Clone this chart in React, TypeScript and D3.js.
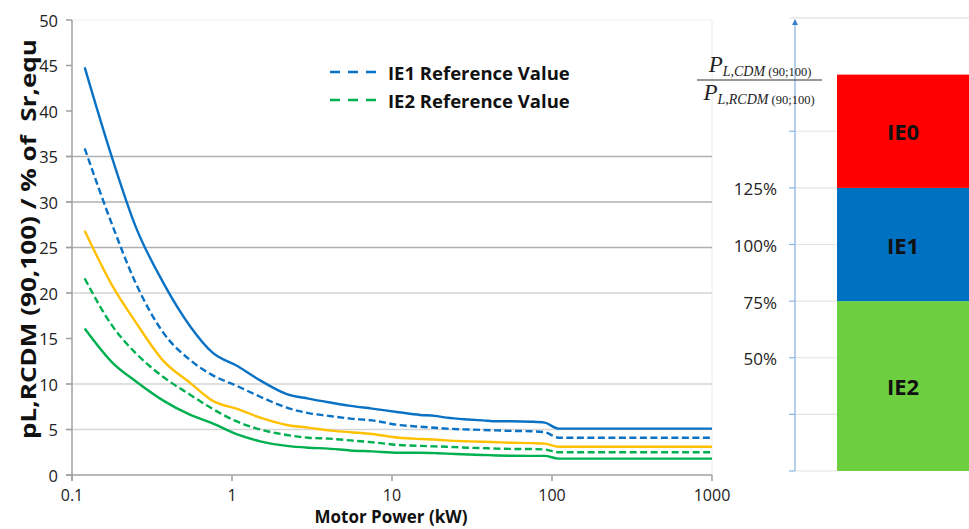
import React from "react";
import * as d3 from "d3";

const powers = [0.12, 0.18, 0.25, 0.37, 0.55, 0.75, 1.1, 1.5, 2.2, 3, 4, 5.5, 7.5, 11, 15, 18.5, 22, 30, 37, 45, 55, 75, 90, 110, 1000];
const ie1Cdm = [44.8, 34.6, 27.3, 21.2, 16.3, 13.5, 11.9, 10.4, 8.9, 8.4, 8.0, 7.6, 7.3, 6.9, 6.6, 6.5, 6.3, 6.1, 6.0, 5.9, 5.9, 5.85, 5.75, 5.1, 5.1];
const ie1Ref = [35.9, 27.3, 21.1, 15.7, 12.6, 11.0, 9.7, 8.6, 7.4, 6.8, 6.5, 6.2, 6.0, 5.5, 5.3, 5.2, 5.1, 5.0, 4.95, 4.9, 4.85, 4.8, 4.7, 4.1, 4.1];
const ie1Mid = [26.85, 20.7, 16.8, 12.6, 10.1, 8.2, 7.2, 6.3, 5.5, 5.2, 4.9, 4.7, 4.5, 4.1, 3.96, 3.9, 3.8, 3.7, 3.65, 3.6, 3.55, 3.5, 3.45, 3.1, 3.1];
const ie2Ref = [21.6, 16.3, 13.4, 10.8, 8.8, 7.3, 5.8, 5.0, 4.4, 4.1, 4.0, 3.8, 3.6, 3.3, 3.2, 3.15, 3.1, 3.0, 2.95, 2.9, 2.87, 2.85, 2.8, 2.5, 2.5];
const ie2Cdm = [16.1, 12.3, 10.3, 8.2, 6.6, 5.7, 4.4, 3.7, 3.2, 3.0, 2.9, 2.7, 2.6, 2.45, 2.45, 2.4, 2.35, 2.25, 2.2, 2.15, 2.12, 2.1, 2.1, 1.8, 1.8];

const xTicks = [0.1, 1, 10, 100, 1000];
const xTickLabels = ["0.1", "1", "10", "100", "1000"];
const yTicks = [0, 5, 10, 15, 20, 25, 30, 35, 40, 45, 50];
const yGrid = [5, 10, 20, 25, 30, 35];

const legendLabels = ["IE1 Reference Value", "IE2 Reference Value"];

const classNames = ["IE2", "IE1", "IE0"];
const classBounds = [[0, 75], [75, 125], [125, 175]];
const classColors = ["#6dcf40", "#0070c0", "#ff0000"];
const pctTicks = [0, 25, 50, 75, 100, 125, 150];
const pctLabels = [50, 75, 100, 125];

const font = "'Open Sans', 'Noto Sans', sans-serif";

export default function App() {
  const x = d3.scaleLog().domain([0.1, 1000]).range([72, 712]);
  const y = d3.scaleLinear().domain([0, 50]).range([475, 20]);
  const yR = d3.scaleLinear().domain([0, 200]).range([471, 18]);

  const line = (vals: number[]) =>
    d3
      .line<number>()
      .x((_, i) => x(powers[i]))
      .y((v) => y(v))
      .curve(d3.curveMonotoneX)(vals) as string;

  const series = [
    { vals: ie1Cdm, color: "#0a72c4", dash: undefined },
    { vals: ie1Ref, color: "#0a72c4", dash: "7,3.5" },
    { vals: ie1Mid, color: "#ffc000", dash: undefined },
    { vals: ie2Ref, color: "#00b050", dash: "7,3.5" },
    { vals: ie2Cdm, color: "#00b050", dash: undefined },
  ];

  return (
    <svg
      width={969}
      height={529}
      style={{ position: "absolute", left: 0, top: 0, background: "#fff" }}
      fontFamily={font}
    >
      {/* plot frame (faint) */}
      <line x1={72} x2={712} y1={20} y2={20} stroke="#ececec" />
      <line x1={712} x2={712} y1={20} y2={475} stroke="#ececec" />
      {/* gridlines */}
      {yGrid.map((t) => (
        <line
          key={t}
          x1={66}
          x2={712}
          y1={y(t)}
          y2={y(t)}
          stroke={t >= 25 ? "#b0b0b0" : "#d6d6d6"}
          strokeWidth={1.5}
        />
      ))}
      {/* y ticks */}
      {yTicks.map((t) => (
        <g key={t}>
          <line x1={66} x2={72} y1={y(t)} y2={y(t)} stroke="#a0a0a0" strokeWidth={1.5} />
          <text x={58} y={y(t)} textAnchor="end" dominantBaseline="central" fontSize={16.5} fill="#222">
            {t}
          </text>
        </g>
      ))}
      {/* axes */}
      <line x1={72} x2={72} y1={20} y2={481} stroke="#a0a0a0" strokeWidth={1.5} />
      <line x1={66} x2={712} y1={475} y2={475} stroke="#a0a0a0" strokeWidth={1.5} />
      {xTicks.map((t, i) => (
        <g key={t}>
          <line x1={x(t)} x2={x(t)} y1={475} y2={481} stroke="#a0a0a0" strokeWidth={1.5} />
          <text x={x(t)} y={495} textAnchor="middle" dominantBaseline="central" fontSize={16} fill="#222">
            {xTickLabels[i]}
          </text>
        </g>
      ))}
      {/* curves */}
      {series.map((s, i) => (
        <path
          key={i}
          d={line(s.vals)}
          fill="none"
          stroke={s.color}
          strokeWidth={2.4}
          strokeDasharray={s.dash}
        />
      ))}
      {/* legend */}
      {legendLabels.map((lab, i) => (
        <g key={lab}>
          <line
            x1={330}
            x2={377}
            y1={72 + i * 28}
            y2={72 + i * 28}
            stroke={i === 0 ? "#0a72c4" : "#00b050"}
            strokeWidth={2.6}
            strokeDasharray="10,8"
          />
          <text x={388} y={72 + i * 28} dominantBaseline="central" fontSize={18.5} fontWeight="bold" fill="#111">
            {lab}
          </text>
        </g>
      ))}
      {/* axis titles */}
      <text
        transform="translate(28,239) rotate(-90)"
        textAnchor="middle"
        dominantBaseline="central"
        fontSize={21}
        fontWeight="bold"
        fill="#111"
        textLength={400}
        lengthAdjust="spacingAndGlyphs"
        style={{ whiteSpace: "pre" }}
      >
        {"pL,RCDM (90,100) / % of  Sr,equ"}
      </text>
      <text x={391} y={516} textAnchor="middle" dominantBaseline="central" fontSize={17} fontWeight="bold" fill="#111">
        Motor Power (kW)
      </text>

      {/* right panel */}
      <line x1={790} x2={969} y1={18} y2={18} stroke="#e6e6e6" strokeWidth={1.5} />
      {pctTicks.map((p) => (
        <g key={p}>
          <line x1={795} x2={837} y1={yR(p)} y2={yR(p)} stroke="#e4e4e4" strokeWidth={1.2} />
          <line x1={789} x2={795} y1={yR(p)} y2={yR(p)} stroke="#8db4e2" strokeWidth={1.2} />
        </g>
      ))}
      <line x1={795} x2={795} y1={yR(0)} y2={yR(200) + 6} stroke="#8db4e2" strokeWidth={1.3} />
      <path d={`M${795 - 3},${yR(200) + 7} L${795 + 3},${yR(200) + 7} L795,${yR(200) + 1} Z`} fill="#3b7fd0" />
      {pctLabels.map((p) => (
        <text key={p} x={777} y={yR(p) + 1} textAnchor="end" dominantBaseline="central" fontSize={17} fill="#222">
          {p}%
        </text>
      ))}
      {classNames.map((c, i) => (
        <g key={c}>
          <rect
            x={837}
            width={969 - 837}
            y={yR(classBounds[i][1])}
            height={yR(classBounds[i][0]) - yR(classBounds[i][1])}
            fill={classColors[i]}
          />
          <text
            x={903}
            y={(yR(classBounds[i][0]) + yR(classBounds[i][1])) / 2}
            textAnchor="middle"
            dominantBaseline="central"
            fontSize={22}
            fontWeight="bold"
            fill="#111"
          >
            {c}
          </text>
        </g>
      ))}
      {/* fraction */}
      <g fontFamily="'Liberation Serif', 'DejaVu Serif', serif" fill="#222">
        <text x={760} y={72} textAnchor="middle">
          <tspan fontSize={23} fontStyle="italic">P</tspan>
          <tspan fontSize={14} fontStyle="italic" dy={4}>L,CDM</tspan>
          <tspan fontSize={12.5}>{" (90;100)"}</tspan>
        </text>
        <line x1={697} x2={822} y1={80} y2={80} stroke="#333" strokeWidth={1.2} />
        <text x={759} y={100} textAnchor="middle">
          <tspan fontSize={23} fontStyle="italic">P</tspan>
          <tspan fontSize={14} fontStyle="italic" dy={4}>L,RCDM</tspan>
          <tspan fontSize={12.5}>{" (90;100)"}</tspan>
        </text>
      </g>
    </svg>
  );
}
